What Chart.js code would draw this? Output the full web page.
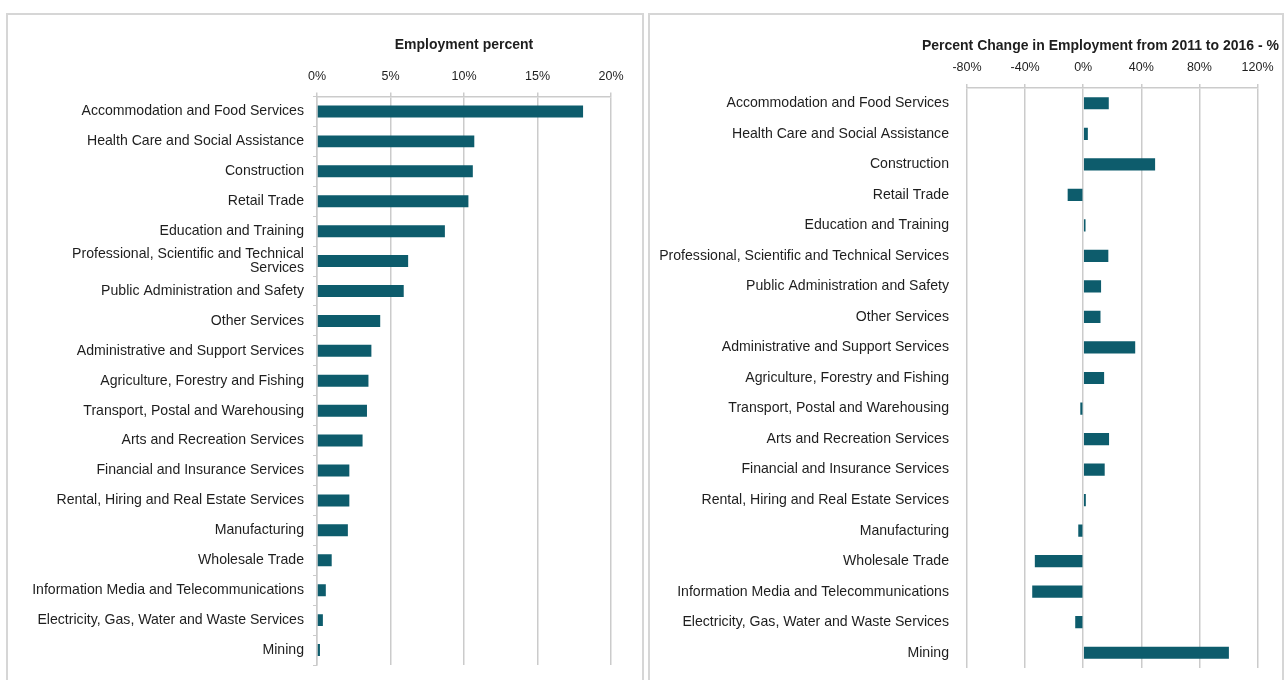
<!DOCTYPE html>
<html>
<head>
<meta charset="utf-8">
<title>Employment by industry</title>
<script src="https://cdn.jsdelivr.net/npm/chart.js@4.4.1/dist/chart.umd.min.js"></script>
<style>
  body { margin: 0; background: #fff; }
  .panel {
    position: absolute;
    top: 13px;
    height: 667px;
    border: 2px solid #d6d6d6;
    border-bottom: none;
    box-sizing: border-box;
  }
  #left-panel { left: 6px; width: 638px; }
  #right-panel { left: 648px; width: 636px; }
  canvas { position: absolute; left: 0; top: 0; }
</style>
</head>
<body>
<div class="panel" id="left-panel"><canvas id="shareChart" width="634" height="665"></canvas></div>
<div class="panel" id="right-panel"><canvas id="changeChart" width="632" height="665"></canvas></div>

<script>
// industries, biggest employer first
const industries = [
    "Accommodation and Food Services",
    "Health Care and Social Assistance",
    "Construction",
    "Retail Trade",
    "Education and Training",
    "Professional, Scientific and Technical Services",
    "Public Administration and Safety",
    "Other Services",
    "Administrative and Support Services",
    "Agriculture, Forestry and Fishing",
    "Transport, Postal and Warehousing",
    "Arts and Recreation Services",
    "Financial and Insurance Services",
    "Rental, Hiring and Real Estate Services",
    "Manufacturing",
    "Wholesale Trade",
    "Information Media and Telecommunications",
    "Electricity, Gas, Water and Waste Services",
    "Mining"
];

// share of employment, %
const employmentPct = [18.1, 10.7, 10.6, 10.3, 8.7, 6.2, 5.9, 4.3, 3.7, 3.5, 3.4, 3.1, 2.2, 2.2, 2.1, 1.0, 0.6, 0.4, 0.2];

// change in employment 2011 -> 2016, %
const changePct = [17.6, 3.2, 49.5, -10.7, 1.6, 17.3, 12.3, 11.9, 35.8, 14.4, -2.0, 17.8, 14.8, 1.8, -3.4, -33.3, -35.1, -5.5, 100.3];

const shareTicks = [0, 5, 10, 15, 20];
const changeTicks = [-80, -40, 0, 40, 80, 120];

const barColor = "#0d5c6c";
const gridColor = "#cbcbcb";
const textColor = "#1e1e1e";

Chart.defaults.font.family = "'Liberation Sans', Arial, sans-serif";
Chart.defaults.color = textColor;

const titleFont = { size: 14, weight: "bold" };

// left chart wraps the long label onto two lines
const shareLabels = industries.map(name =>
    name === "Professional, Scientific and Technical Services"
        ? ["Professional, Scientific and Technical", "Services"]
        : name
);

function baseOptions(ticks, box) {
    return {
        indexAxis: "y",
        responsive: false,
        animation: false,
        layout: { padding: { top: 0, left: 0, right: box.padRight, bottom: box.padBottom } },
        plugins: {
            legend: { display: false },
            tooltip: { enabled: false }
        },
        scales: {
            x: {
                position: "top",
                min: ticks[0],
                max: ticks[ticks.length - 1],
                afterBuildTicks: scale => {
                    scale.ticks = ticks.map(v => ({ value: v }));
                },
                afterFit: scale => { scale.height = box.axisHeight; },
                ticks: {
                    padding: 8.5,
                    font: { size: 12.5 },
                    callback: v => v + "%"
                },
                grid: {
                    color: gridColor,
                    lineWidth: 1.5,
                    tickLength: 4
                },
                border: { color: gridColor, width: 1.5 }
            },
            y: {
                afterFit: scale => {
                    scale.width = box.labelWidth;
                    // labels sit inside their bands, no extra room needed above/below
                    scale.paddingTop = 0;
                    scale.paddingBottom = 0;
                },
                ticks: {
                    autoSkip: false,
                    padding: box.labelPad,
                    font: { size: 14.1, lineHeight: 1.0 }
                },
                grid: {
                    display: box.yTicks,
                    drawOnChartArea: false,
                    tickLength: 4,
                    color: gridColor
                },
                border: { display: box.yTicks, color: gridColor, width: 1.5 }
            }
        }
    };
}

function barData(labels, values) {
    return {
        labels: labels,
        datasets: [{
            data: values,
            backgroundColor: barColor,
            borderWidth: 0,
            categoryPercentage: 1,
            barPercentage: 0.4
        }]
    };
}

// left: employment share, title sits over the axis
const shareOpts = baseOptions(shareTicks, {
    padRight: 31, padBottom: 15, axisHeight: 81.5,
    labelWidth: 309, labelPad: 9, yTicks: true
});
shareOpts.scales.x.title = {
    display: true,
    text: "Employment percent",
    font: titleFont,
    padding: { top: 22, bottom: 0 }
};
new Chart(document.getElementById("shareChart").getContext("2d"), {
    type: "bar",
    data: barData(shareLabels, employmentPct),
    options: shareOpts
});

// right: change in employment, title runs past the plot to the right edge
const changeOpts = baseOptions(changeTicks, {
    padRight: 3, padBottom: 12, axisHeight: 33.6,
    labelWidth: 317, labelPad: 14, yTicks: false
});
changeOpts.plugins.title = {
    display: true,
    text: "Percent Change in Employment from 2011 to 2016 - %",
    align: "end",
    font: titleFont,
    color: textColor,
    padding: { top: 22.6, bottom: 0 }
};
// empty right-hand axis just to keep the plot clear of the panel edge
changeOpts.scales.yRight = {
    type: "category",
    position: "right",
    afterFit: scale => { scale.width = 20; },
    ticks: { display: false },
    grid: { display: false },
    border: { display: false }
};
new Chart(document.getElementById("changeChart").getContext("2d"), {
    type: "bar",
    data: barData(industries, changePct),
    options: changeOpts
});
</script>
</body>
</html>
